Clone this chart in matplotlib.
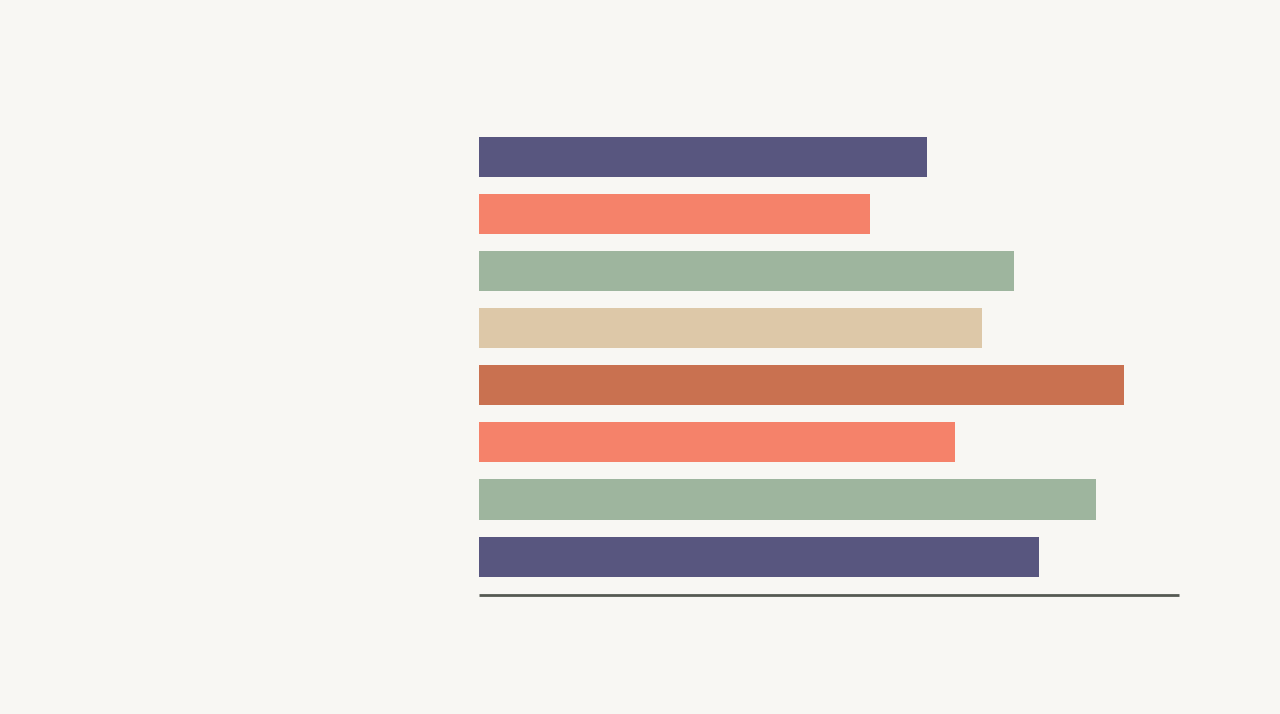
import matplotlib
matplotlib.use("Agg")
import matplotlib.pyplot as plt

categories = ["A", "B", "C", "D", "E", "F", "G", "H"]
values = [64, 55.8, 76.4, 71.9, 92.2, 68.0, 88.2, 80.0]
colors = ["#58567F", "#F5826A", "#9EB59E", "#DDC8A8", "#C97150", "#F5826A", "#9EB59E", "#58567F"]

bg = "#F8F7F3"
fig = plt.figure(figsize=(12.8, 7.14), dpi=100, facecolor=bg)
W, H = 1280, 714
left, right = 479, 1179
top, bottom = 128.2, 594.7
ax = fig.add_axes([left / W, (H - bottom) / H, (right - left) / W, (bottom - top) / H])
ax.set_facecolor(bg)

ypos = list(range(len(categories)))
ax.barh(ypos, values, height=40 / 57, color=colors, edgecolor="none")
ax.set_xlim(0, 100)
ax.set_ylim(7 + 38 / 57, -0.5)

for s in ["top", "right", "left"]:
    ax.spines[s].set_visible(False)
ax.spines["bottom"].set_color("#555952")
ax.spines["bottom"].set_linewidth(2.0)
ax.spines["bottom"].set_capstyle("butt")
ax.set_xticks([])
ax.set_yticks([])

fig.savefig("out.png", dpi=100, facecolor=bg)
